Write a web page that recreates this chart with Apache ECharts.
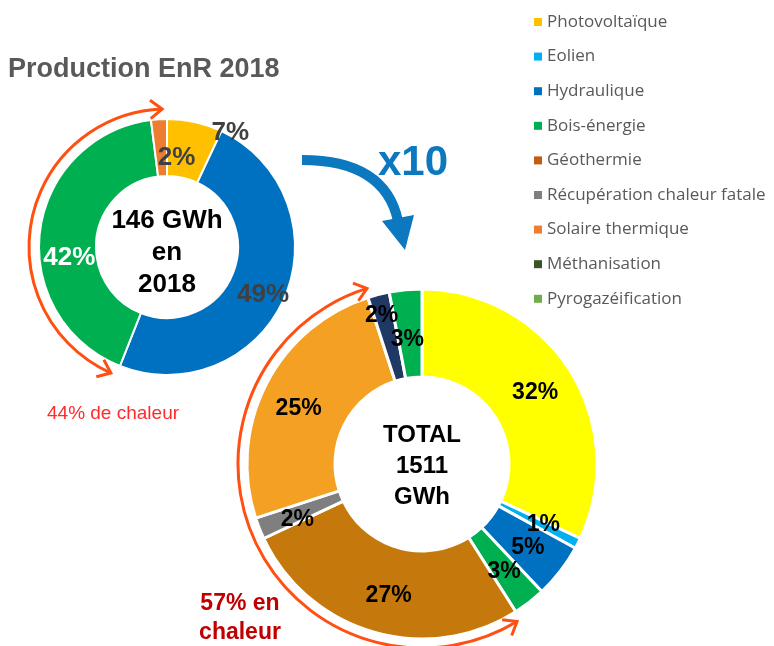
<!DOCTYPE html>
<html>
<head>
<meta charset="utf-8">
<script src="https://cdn.jsdelivr.net/npm/echarts@6/dist/echarts.min.js"></script>
<style>
html,body{margin:0;padding:0;background:#fff;}
#chart{width:774px;height:646px;}
</style>
</head>
<body>
<div id="chart"></div>
<script>
// ---- data ----
const categories = ['Photovoltaïque','Eolien','Hydraulique','Bois-énergie','Géothermie','Récupération chaleur fatale','Solaire thermique','Méthanisation','Pyrogazéification'];
const legendColors = ['#FFC000','#00B0F0','#0070C0','#00B050','#C55A11','#7F7F7F','#ED7D31','#375623','#70AD47'];

const names2018 = ['Photovoltaïque','Hydraulique','Bois-énergie','Solaire thermique'];
const values2018 = [7, 49, 42, 2];
const colors2018 = ['#FFC000','#0070C0','#00B050','#ED7D31'];
const labelColors2018 = ['#404040','#404040','#FFFFFF','#404040'];

const valuesTotal = [32, 1, 5, 3, 27, 2, 25, 2, 3];
const colorsTotal = ['#FFFF00','#00B0F0','#0070C0','#00B050','#C5780B','#7F7F7F','#F4A023','#1F3864','#00B050'];

const centerText2018 = '146 GWh\nen\n2018';
const centerTextTotal = 'TOTAL\n1511\nGWh';

// ---- label nudges (layout only) ----
const nudge2018 = [[41,-14],[2,7],[4,24],[16,13]];
const nudgeTotal = [[0,0],[2,0],[0,2],[0,2],[4,3],[0,6],[-4,5],[-7,-19],[-2,9]];

const FONT = '"Liberation Sans", Arial, sans-serif';
const ORANGE = '#FF5012';

function arcWithHeads(cx, cy, r, a0deg, a1deg) {
  // arc drawn clockwise (canvas) from a0 to a1, chevrons at both ends
  const a0 = a0deg * Math.PI / 180, a1 = a1deg * Math.PI / 180;
  const els = [{
    type: 'arc',
    shape: {cx: cx, cy: cy, r: r, startAngle: a0, endAngle: a1, clockwise: true},
    style: {stroke: ORANGE, lineWidth: 3, fill: null},
    z: 10
  }];
  const heads = [
    {a: a1, dir: [-Math.sin(a1), Math.cos(a1)]},
    {a: a0, dir: [Math.sin(a0), -Math.cos(a0)]}
  ];
  heads.forEach(h => {
    const tx = cx + r * Math.cos(h.a), ty = cy + r * Math.sin(h.a);
    const back = Math.atan2(-h.dir[1], -h.dir[0]);
    const L = 15, spread = 38 * Math.PI / 180;
    const p1 = [tx + L * Math.cos(back + spread), ty + L * Math.sin(back + spread)];
    const p2 = [tx + L * Math.cos(back - spread), ty + L * Math.sin(back - spread)];
    els.push({
      type: 'polyline',
      shape: {points: [p1, [tx, ty], p2]},
      style: {stroke: ORANGE, lineWidth: 3, fill: null, lineJoin: 'miter'},
      z: 10
    });
  });
  return els;
}

const chart = echarts.init(document.getElementById('chart'), null, {renderer: 'canvas'});

const option = {
  backgroundColor: '#ffffff',
  animation: false,
  legend: {
    orient: 'vertical',
    left: 529,
    top: 8,
    itemWidth: 8,
    itemHeight: 8,
    itemGap: 16.6,
    icon: 'rect',
    selectedMode: false,
    textStyle: {fontFamily: '"Open Sans", sans-serif', fontSize: 17, color: '#595959', lineHeight: 18},
    data: categories.map((n, i) => ({name: n, itemStyle: {color: legendColors[i], borderWidth: 0}}))
  },
  series: [
    {
      type: 'pie',
      center: [167, 247],
      radius: [71, 128],
      startAngle: 90,
      clockwise: true,
      silent: true,
      itemStyle: {borderColor: '#ffffff', borderWidth: 2},
      label: {
        show: true,
        position: 'inside',
        fontFamily: FONT,
        fontWeight: 'bold',
        fontSize: 26,
        formatter: p => p.value + '%'
      },
      labelLine: {show: false},
      labelLayout: p => ({dx: nudge2018[p.dataIndex][0], dy: nudge2018[p.dataIndex][1]}),
      data: names2018.map((n, i) => ({
        name: n, value: values2018[i],
        itemStyle: {color: colors2018[i]},
        label: {color: labelColors2018[i]}
      }))
    },
    {
      type: 'pie',
      center: [422, 464],
      radius: [87, 175],
      startAngle: 90,
      clockwise: true,
      silent: true,
      itemStyle: {borderColor: '#ffffff', borderWidth: 3},
      label: {
        show: true,
        position: 'inside',
        fontFamily: FONT,
        fontWeight: 'bold',
        fontSize: 23,
        color: '#000000',
        formatter: p => p.value + '%'
      },
      labelLine: {show: false},
      labelLayout: p => ({dx: nudgeTotal[p.dataIndex][0], dy: nudgeTotal[p.dataIndex][1]}),
      data: categories.map((n, i) => ({
        name: n, value: valuesTotal[i],
        itemStyle: {color: colorsTotal[i]}
      }))
    }
  ],
  graphic: [
    {
      type: 'text', x: 8, y: 70,
      style: {text: 'Production EnR 2018', font: 'bold 27px ' + FONT, fill: '#595959', textVerticalAlign: 'middle'}
    },
    {
      type: 'text', x: 167, y: 253,
      style: {text: centerText2018, font: 'bold 26px ' + FONT, fill: '#000000', textAlign: 'center', textVerticalAlign: 'middle', lineHeight: 32}
    },
    {
      type: 'text', x: 422, y: 466,
      style: {text: centerTextTotal, font: 'bold 24px ' + FONT, fill: '#000000', textAlign: 'center', textVerticalAlign: 'middle', lineHeight: 31}
    },
    {
      type: 'text', x: 378, y: 163,
      style: {text: 'x10', font: 'bold 42px ' + FONT, fill: '#0B78C0', textVerticalAlign: 'middle'}
    },
    {
      type: 'text', x: 47, y: 414,
      style: {text: '44% de chaleur', font: '19px ' + FONT, fill: '#FF2A2A', textVerticalAlign: 'middle'}
    },
    {
      type: 'text', x: 240, y: 618,
      style: {text: '57% en\nchaleur', font: 'bold 23px ' + FONT, fill: '#C00000', textAlign: 'center', textVerticalAlign: 'middle', lineHeight: 29}
    },
    {
      type: 'bezierCurve',
      shape: {x1: 302, y1: 160, cpx1: 385, cpy1: 160, x2: 398, y2: 221},
      style: {stroke: '#0B78C0', lineWidth: 10, fill: null}
    },
    {
      type: 'polygon',
      shape: {points: [[382, 221], [414, 215], [405, 250]]},
      style: {fill: '#0B78C0'}
    }
  ].concat(arcWithHeads(167, 247, 138, 114, 268))
   .concat(arcWithHeads(422, 464, 184, 58.9, 252.6))
};

chart.setOption(option);
</script>
</body>
</html>
